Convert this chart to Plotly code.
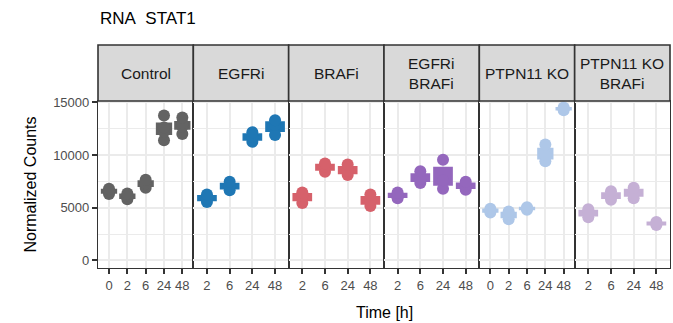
import numpy as np
import plotly.graph_objects as go
from plotly.subplots import make_subplots

# Normalized STAT1 RNA counts, replicates per time point (hours)
conditions = ["Control", "EGFRi", "BRAFi", "EGFRi<br>BRAFi", "PTPN11 KO", "PTPN11 KO<br>BRAFi"]

control_times = ["0", "2", "6", "24", "48"]
control_vals = [[6300, 6550, 6800], [5800, 6100, 6350], [6900, 7300, 7650],
                [11400, 12200, 12600, 13750], [12000, 12700, 13000, 13550]]

egfri_times = ["2", "6", "24", "48"]
egfri_vals = [[5550, 5900, 6250], [6650, 7050, 7450], [11250, 11700, 12150],
              [11900, 12850, 13300]]

brafi_times = ["2", "6", "24", "48"]
brafi_vals = [[5450, 6100, 6450], [8400, 8900, 9200], [8100, 8500, 9100],
              [5150, 5700, 6250]]

egfri_brafi_times = ["2", "6", "24", "48"]
egfri_brafi_vals = [[5900, 6150, 6450], [7350, 7750, 8450], [6800, 7600, 9550],
                    [6700, 7100, 7450]]

ptpn11_times = ["0", "2", "6", "24", "48"]
ptpn11_vals = [[4550, 4700, 4900], [3900, 4350, 4650], [4800, 4950, 5050],
               [9400, 10000, 11000], [14250, 14400, 14500]]

ptpn11_brafi_times = ["2", "6", "24", "48"]
ptpn11_brafi_vals = [[4100, 4500, 4850], [5750, 6150, 6550], [5900, 6450, 6900],
                     [3350, 3500, 3650]]

panel_times = [control_times, egfri_times, brafi_times, egfri_brafi_times,
               ptpn11_times, ptpn11_brafi_times]
panel_vals = [control_vals, egfri_vals, brafi_vals, egfri_brafi_vals,
              ptpn11_vals, ptpn11_brafi_vals]

y_ticks = [0, 5000, 10000, 15000]
y_tick_labels = ["0", "5000", "10000", "15000"]

# styling
colors = ["#636363", "#1F77B4", "#D6616B", "#9467BD", "#AEC7E8", "#C5B0D5"]
font_family = "Liberation Sans, Arial, sans-serif"
border = "#333333"
grid = "#EBEBEB"
tick_font = dict(size=13, color="#4D4D4D", family=font_family)

n_panels = len(conditions)
fig = make_subplots(rows=1, cols=n_panels, shared_yaxes=True, horizontal_spacing=0)

for i, (times, vals, color) in enumerate(zip(panel_times, panel_vals, colors)):
    col = i + 1
    means = np.array([np.mean(v) for v in vals])
    ses = np.array([np.std(v, ddof=1) / np.sqrt(len(v)) for v in vals])
    # mean +/- standard error crossbar
    fig.add_trace(go.Bar(x=times, y=2 * ses, base=means - ses, width=0.78,
                         marker=dict(color=color, line=dict(color=color, width=2)),
                         showlegend=False, hoverinfo="skip"), row=1, col=col)
    # individual replicates
    px = [t for t, v in zip(times, vals) for _ in v]
    py = [y for v in vals for y in v]
    fig.add_trace(go.Scatter(x=px, y=py, mode="markers",
                             marker=dict(color=color, size=12, line=dict(width=0)),
                             showlegend=False, hoverinfo="skip"), row=1, col=col)
    n = len(times)
    fig.update_xaxes(type="category", categoryorder="array", categoryarray=times,
                     range=[-0.6, n - 1 + 0.6], showgrid=True, gridcolor=grid, gridwidth=1.6,
                     showline=True, mirror=True, linecolor=border, linewidth=1.2,
                     ticks="outside", ticklen=5, tickwidth=1.5, tickcolor=border,
                     tickfont=tick_font, zeroline=False, row=1, col=col)
    fig.update_yaxes(range=[-720, 15120], tickvals=y_ticks, ticktext=y_tick_labels,
                     showgrid=True, gridcolor=grid, gridwidth=1.6,
                     minor=dict(dtick=2500, tick0=0, showgrid=True, gridcolor=grid, gridwidth=1),
                     showline=True, mirror=True, linecolor=border, linewidth=1.2,
                     zeroline=False, row=1, col=col)
    # facet strip
    x0, x1 = i / n_panels, (i + 1) / n_panels
    fig.add_shape(type="rect", xref="paper", yref="paper", x0=x0, x1=x1,
                  y0=1, y1=1 + 56 / 167, fillcolor="#D9D9D9",
                  line=dict(color=border, width=1.6), layer="above")
    fig.add_annotation(text=conditions[i], xref="paper", yref="paper",
                       x=(x0 + x1) / 2, y=1 + 28 / 167, xanchor="center", yanchor="middle",
                       showarrow=False,
                       font=dict(size=15.5, color="#1A1A1A", family=font_family))

fig.update_yaxes(ticks="outside", ticklen=5, tickwidth=1.5, tickcolor=border,
                 tickfont=tick_font, row=1, col=1)

fig.add_annotation(text="RNA\u00a0 STAT1", xref="paper", yref="paper", x=0, y=1 + 83 / 167,
                   xanchor="left", yanchor="middle", showarrow=False,
                   font=dict(size=17, color="#000000", family=font_family))
fig.add_annotation(text="Time [h]", xref="paper", yref="paper", x=0.5, y=-44 / 167,
                   xanchor="center", yanchor="middle", showarrow=False,
                   font=dict(size=16, color="#000000", family=font_family))
fig.add_annotation(text="Normalized Counts", xref="paper", yref="paper", x=-68 / 572, y=0.5,
                   xanchor="center", yanchor="middle", textangle=-90, showarrow=False,
                   font=dict(size=16, color="#000000", family=font_family))

fig.update_layout(width=673, height=323, margin=dict(l=98, r=3, t=101, b=55),
                  paper_bgcolor="white", plot_bgcolor="white", barmode="overlay",
                  font=dict(family=font_family))

fig.write_html("out.html")
